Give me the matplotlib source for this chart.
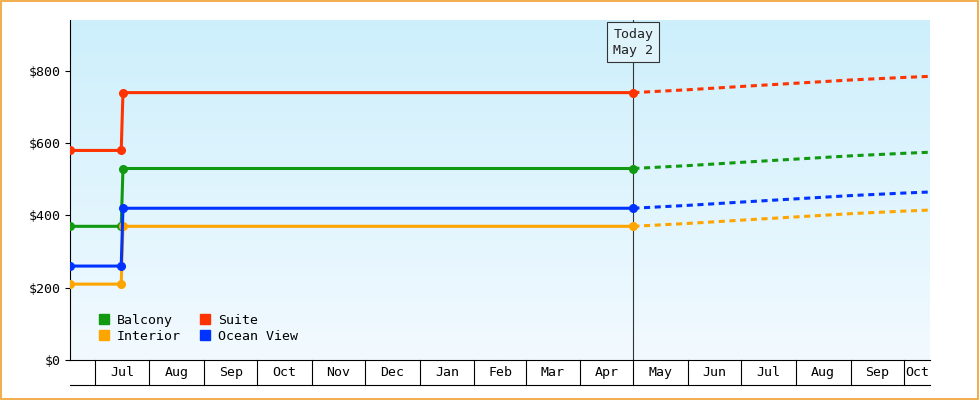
import matplotlib
matplotlib.use("Agg")
import matplotlib.pyplot as plt
import matplotlib.dates as mdates
import matplotlib.transforms as mtrans
import numpy as np
from datetime import date
from matplotlib.patches import Rectangle
from matplotlib.lines import Line2D
from matplotlib.colors import LinearSegmentedColormap

plt.rcParams['font.family'] = ['DejaVu Sans Mono']

hist_dates = [date(2023,6,17), date(2023,7,16), date(2023,7,17), date(2024,5,1)]
fc_dates = [date(2024,5,1), date(2024,6,1), date(2024,7,1), date(2024,8,1), date(2024,9,1), date(2024,10,1), date(2024,10,16)]
series = {
    "Balcony":    ([370,370,530,530], [530,538,547,556,565,572,575], "#119911"),
    "Suite":      ([580,580,740,740], [740,748,757,766,775,782,785], "#ff3300"),
    "Interior":   ([210,210,370,370], [370,378,387,396,405,412,415], "#ffa500"),
    "Ocean View": ([260,260,420,420], [420,428,437,446,455,462,465], "#0033ff"),
}
today = date(2024,5,1)
xmin, xmax = date(2023,6,17), date(2024,10,16)
months = [date(2023,m,1) for m in range(7,13)] + [date(2024,m,1) for m in range(1,12)]

fig = plt.figure(figsize=(9.8,4), dpi=100)
fig.patches.append(Rectangle((0.001,0.002),0.997,0.995,transform=fig.transFigure,fill=False,edgecolor="#f0a030",lw=1.2))
ax = fig.add_axes([70/980, 40/400, 860/980, 340/400])
X0, X1 = mdates.date2num(xmin), mdates.date2num(xmax)
grad = np.linspace(0,1,256).reshape(-1,1)
cm = LinearSegmentedColormap.from_list("g", ["#f2faff", "#cdeffc"])
ax.imshow(grad, aspect='auto', cmap=cm, origin='lower', extent=[X0,X1,0,941], zorder=0)
ax.set_xlim(X0, X1); ax.set_ylim(0, 941)

for name,(h,f,c) in series.items():
    ax.plot(mdates.date2num(hist_dates), h, color=c, lw=2.2, marker='o', ms=5.5, zorder=3)
    ax.plot(mdates.date2num(fc_dates), f, color=c, lw=2.2, ls=(0,(2,1.5)), zorder=3)

tn = mdates.date2num(today)
ax.axvline(tn, color="#333333", lw=0.8, zorder=2)
ax.text(tn, 880, "Today\nMay 2", ha='center', va='center', fontsize=9.5, color="#222222",
        bbox=dict(boxstyle='square,pad=0.45', fc='#dff3fb', ec='#333333', lw=0.8), zorder=5, linespacing=1.3)

ax.set_yticks([0,200,400,600,800])
ax.set_yticklabels(["$0","$200","$400","$600","$800"], fontsize=9.5)
ax.set_xticks([])
for s in ['top','right']: ax.spines[s].set_visible(False)

tr = mtrans.blended_transform_factory(ax.transData, ax.transAxes)
h = 25/340
ax.add_line(Line2D([X0,X1],[-h,-h],transform=tr,color='black',lw=0.8,clip_on=False))
for i,m in enumerate(months):
    mn = mdates.date2num(m)
    if mn < X1:
        ax.add_line(Line2D([mn,mn],[0,-h],transform=tr,color='black',lw=0.8,clip_on=False))
    nxt = mdates.date2num(months[i+1]) if i+1 < len(months) else X1
    a, b = max(mn,X0), min(nxt,X1)
    if a < b and b-a > 10:
        ax.text((a+b)/2, -h/2, m.strftime("%b"), transform=tr, ha='center', va='center', fontsize=9.5)

handles = [Line2D([],[],marker='s',ls='',color=series[n][2],ms=7) for n in ["Balcony","Interior","Suite","Ocean View"]]
ax.legend(handles, ["Balcony","Interior","Suite","Ocean View"], ncol=2, loc='lower left',
          bbox_to_anchor=(0.01,0.015), frameon=False, handletextpad=0.0, columnspacing=0.8,
          labelspacing=0.25, fontsize=9.5)
fig.savefig("out.png", dpi=100)
